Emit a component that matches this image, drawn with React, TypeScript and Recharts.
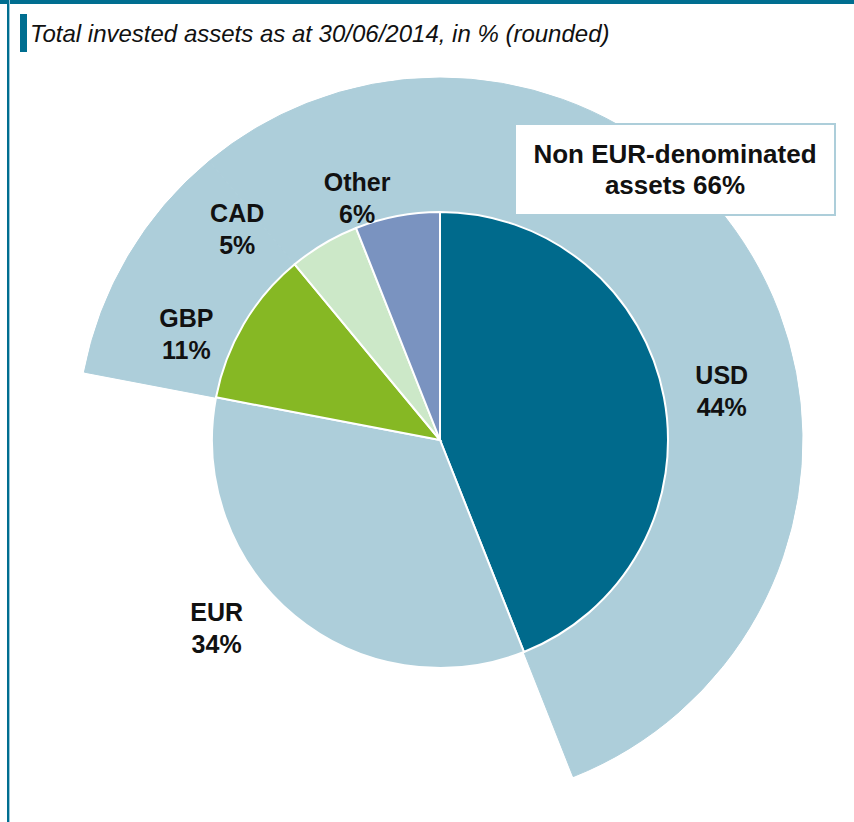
import { PieChart, Pie, Cell } from 'recharts';

const currencies = ['USD', 'EUR', 'GBP', 'CAD', 'Other'];
const shares = [44, 34, 11, 5, 6];
const nonEurShare = 66;
const title = 'Total invested assets as at 30/06/2014, in % (rounded)';

const COLORS: Record<string, string> = {
  USD: '#006A8C',
  EUR: '#ADCEDA',
  GBP: '#86B824',
  CAD: '#CCE8C8',
  Other: '#7A93C0',
};
const RING = '#ADCEDA';
const TEAL = '#006E90';
const FONT = "'Liberation Sans', Arial, sans-serif";

// label placement around the centre: radius + angle nudge from the slice mid angle
const LABEL_POS: Record<string, { r: number; da: number }> = {
  USD: { r: 286, da: -0.9 },
  EUR: { r: 292, da: -10.3 },
  GBP: { r: 275, da: 7.9 },
  CAD: { r: 293, da: 13.2 },
  Other: { r: 256, da: 8.1 },
};

const data = currencies.map((name, i) => ({ name, value: shares[i] }));

const RAD = Math.PI / 180;

function renderLabel(props: any) {
  const { cx, cy, midAngle, name, value } = props;
  const pos = LABEL_POS[name];
  const a = (midAngle + pos.da) * RAD;
  const x = cx + pos.r * Math.cos(a);
  const y = cy - pos.r * Math.sin(a);
  return (
    <text
      x={x}
      y={y}
      textAnchor="middle"
      fill="#111"
      fontFamily={FONT}
      fontWeight="bold"
      fontSize={25}
    >
      <tspan x={x} dy={-7}>{name}</tspan>
      <tspan x={x} dy={32}>{value}%</tspan>
    </text>
  );
}

export default function App() {
  return (
    <div style={{ position: 'absolute', left: 0, top: 0, width: 854, height: 822, background: '#fff', overflow: 'hidden', fontFamily: FONT }}>
      <div style={{ position: 'absolute', left: 0, top: 0, width: 854, height: 4, background: TEAL }} />
      <div style={{ position: 'absolute', left: 7, top: 0, width: 2, height: 822, background: TEAL }} />
      <div style={{ position: 'absolute', left: 9, top: 0, width: 1, height: 822, background: '#9CC8D8' }} />
      <div style={{ position: 'absolute', left: 20, top: 14, width: 7, height: 38, background: TEAL }} />
      <div style={{ position: 'absolute', left: 30, top: 20, fontSize: 24, fontStyle: 'italic', color: '#111', whiteSpace: 'nowrap', lineHeight: '28px' }}>
        {title}
      </div>

      <div style={{ position: 'absolute', left: 0, top: 0 }}>
        <PieChart width={854} height={822} margin={{ top: 0, right: 0, bottom: 0, left: 0 }}>
          <Pie
            data={data}
            dataKey="value"
            nameKey="name"
            cx={440}
            cy={440}
            innerRadius={0}
            outerRadius={362}
            startAngle={90}
            endAngle={-270}
            isAnimationActive={false}
          >
            {data.map(d => (
              <Cell
                key={d.name}
                fill={d.name === 'EUR' ? 'transparent' : RING}
                stroke={d.name === 'EUR' ? 'none' : RING}
                strokeWidth={1}
              />
            ))}
          </Pie>
          <Pie
            data={data}
            dataKey="value"
            nameKey="name"
            cx={440}
            cy={440}
            innerRadius={0}
            outerRadius={228}
            startAngle={90}
            endAngle={-270}
            stroke="#fff"
            strokeWidth={2}
            label={renderLabel}
            labelLine={false}
            isAnimationActive={false}
          >
            {data.map(d => (
              <Cell key={d.name} fill={COLORS[d.name]} />
            ))}
          </Pie>
        </PieChart>
      </div>

      <div
        style={{
          position: 'absolute',
          left: 514,
          top: 123,
          width: 318,
          height: 89,
          border: `2px solid ${RING}`,
          background: '#fff',
          display: 'flex',
          alignItems: 'center',
          justifyContent: 'center',
          textAlign: 'center',
          fontWeight: 'bold',
          fontSize: 26,
          lineHeight: '31px',
          color: '#111',
        }}
      >
        Non EUR-denominated
        <br />
        assets {nonEurShare}%
      </div>
    </div>
  );
}
